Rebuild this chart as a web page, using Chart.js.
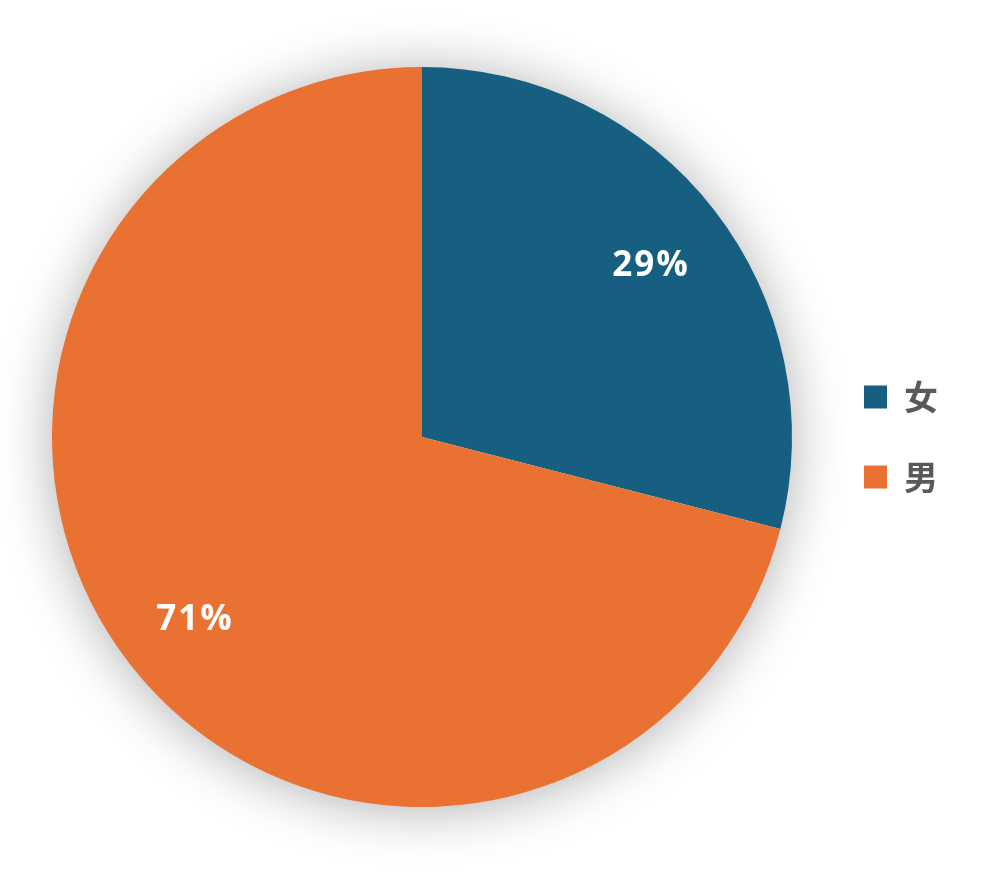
<!DOCTYPE html>
<html>
<head>
<meta charset="utf-8">
<script src="https://cdn.jsdelivr.net/npm/chart.js@4"></script>
<style>
  html, body { margin: 0; padding: 0; background: #ffffff; }
  #wrap { width: 981px; height: 875px; }
</style>
</head>
<body>
<div id="wrap"><canvas id="c" width="981" height="875"></canvas></div>
<script>
const categories = ['女', '男'];
const values = [29, 71];
const sliceColors = ['#175f81', '#e97132'];

const shadowPlugin = {
  id: 'pieShadow',
  beforeDatasetsDraw(chart) {
    const meta = chart.getDatasetMeta(0);
    if (!meta.data.length) return;
    const a = meta.data[0].getProps(['x', 'y', 'outerRadius'], true);
    const ctx = chart.ctx;
    const clipRight = chart.legend ? chart.legend.left + chart.legend.options.labels.padding * 0.57 : chart.width;
    ctx.save();
    ctx.beginPath();
    ctx.rect(0, 0, clipRight, chart.height);
    ctx.clip();
    ctx.shadowColor = 'rgba(0,0,0,0.32)';
    ctx.shadowBlur = 55;
    ctx.shadowOffsetX = 0;
    ctx.shadowOffsetY = 3;
    ctx.fillStyle = '#ffffff';
    ctx.beginPath();
    ctx.arc(a.x, a.y, a.outerRadius - 1, 0, Math.PI * 2);
    ctx.fill();
    ctx.restore();
  }
};

const labelPlugin = {
  id: 'pctLabels',
  afterDatasetsDraw(chart) {
    const ds = chart.data.datasets[0];
    const total = ds.data.reduce((s, v) => s + v, 0);
    const meta = chart.getDatasetMeta(0);
    const ctx = chart.ctx;
    ctx.save();
    ctx.fillStyle = '#ffffff';
    ctx.font = 'bold 35px "Open Sans", sans-serif';
    try { ctx.letterSpacing = '2px'; } catch (e) {}
    ctx.textAlign = 'center';
    ctx.textBaseline = 'middle';
    meta.data.forEach((arc, i) => {
      const p = arc.getProps(['x', 'y', 'startAngle', 'endAngle', 'outerRadius'], true);
      const mid = (p.startAngle + p.endAngle) / 2;
      const r = p.outerRadius * 0.78;
      const pct = Math.round(ds.data[i] / total * 100) + '%';
      ctx.fillText(pct, p.x + Math.cos(mid) * r + 1, p.y + Math.sin(mid) * r + 6);
    });
    ctx.restore();
  }
};

new Chart(document.getElementById('c'), {
  type: 'pie',
  data: {
    labels: categories,
    datasets: [{
      data: values,
      backgroundColor: sliceColors,
      borderWidth: 0,
      hoverOffset: 0
    }]
  },
  options: {
    responsive: false,
    animation: false,
    layout: { padding: { top: 67, bottom: 68, left: 26, right: 33 } },
    plugins: {
      tooltip: { enabled: false },
      legend: {
        position: 'right',
        labels: {
          boxWidth: 23,
          boxHeight: 23,
          padding: 46,
          color: '#595959',
          font: { family: '"Noto Sans CJK SC", sans-serif', size: 34, weight: 'bold' }
        }
      }
    }
  },
  plugins: [shadowPlugin, labelPlugin]
});
</script>
</body>
</html>
